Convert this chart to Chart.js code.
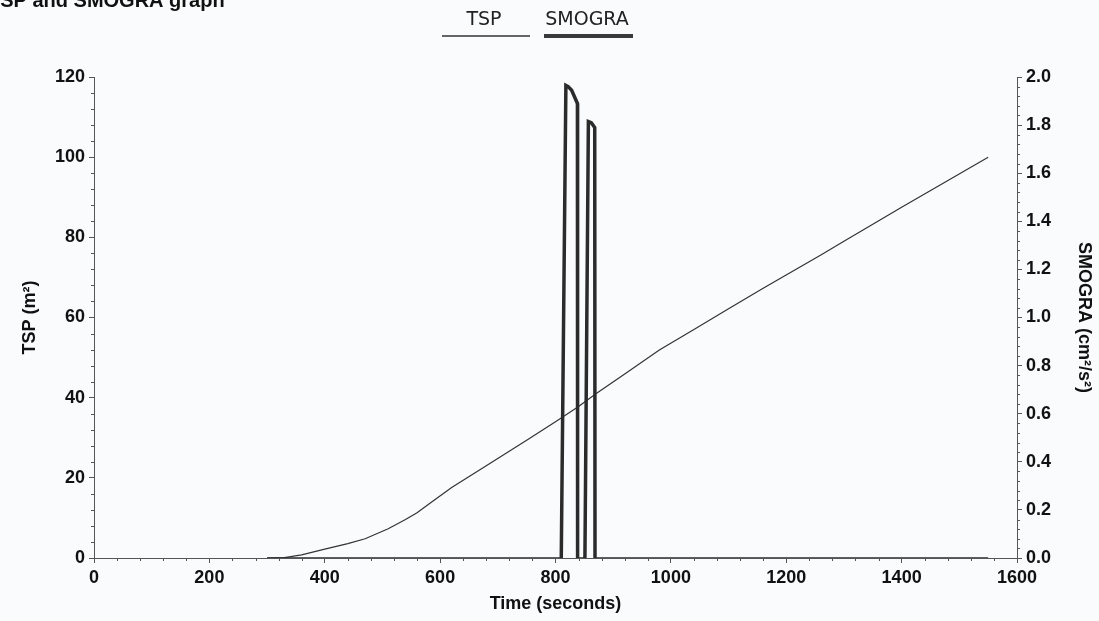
<!DOCTYPE html>
<html><head><meta charset="utf-8">
<script src="https://cdn.jsdelivr.net/npm/chart.js@4.4.1/dist/chart.umd.min.js"></script>
<style>html,body{margin:0;padding:0;background:#fafbfc;overflow:hidden}canvas{display:block}</style>
</head><body>
<canvas id="c" width="1099" height="621"></canvas>
<script>
// ---- data ----
const tspTime  = [300, 330, 360, 400, 440, 470, 510, 540, 560, 580, 620, 680, 750, 800, 840, 870, 920, 980, 1040, 1100, 1160, 1260, 1300, 1400, 1460, 1550];
const tspValue = [0, 0.1, 0.8, 2.2, 3.6, 4.8, 7.3, 9.6, 11.3, 13.4, 17.6, 23.0, 29.4, 34.0, 37.8, 41.0, 45.9, 51.9, 57.0, 62.2, 67.3, 75.6, 79.0, 87.5, 92.5, 100.0];
const smograTime  = [300, 810, 818, 822, 828, 838, 838.3, 851, 857, 862, 868, 868.5, 1550];
const smograValue = [0, 0, 1.965, 1.96, 1.945, 1.89, 0, 0, 1.815, 1.81, 1.79, 0, 0];
const xRange = [0, 1600], xStep = 200, xMinor = 40;
const yRange = [0, 120], yStep = 20, yMinor = 4;
const y1Range = [0, 2], y1Step = 0.2, y1Minor = 0.04;
const titleText = 'TSP and SMOGRA graph';
const legendNames = ['TSP', 'SMOGRA'];

const axisColor = '#555';
const tickFont = {family: 'Liberation Sans', size: 18, weight: 'bold'};
const titleFont = {family: 'Liberation Sans', size: 18, weight: 'bold'};

const pts = (xs, ys) => xs.map((x, i) => ({x, y: ys[i]}));

const extras = {
  id: 'extras',
  afterDraw(chart) {
    const ctx = chart.ctx;
    ctx.save();
    // partially cut-off page title
    ctx.fillStyle = '#111';
    ctx.font = 'bold 20px "Liberation Sans"';
    ctx.textBaseline = 'alphabetic';
    ctx.textAlign = 'left';
    ctx.fillText(titleText, -12, 7);
    // legend
    ctx.font = '19px "DejaVu Sans"';
    ctx.textAlign = 'center';
    ctx.textBaseline = 'middle';
    ctx.fillStyle = '#222';
    ctx.fillText(legendNames[0], 484, 20);
    ctx.fillText(legendNames[1], 587, 20);
    ctx.strokeStyle = '#333';
    ctx.lineWidth = 1.5;
    ctx.beginPath(); ctx.moveTo(442, 36); ctx.lineTo(530, 36); ctx.stroke();
    ctx.strokeStyle = '#3a3a3a';
    ctx.lineWidth = 4;
    ctx.beginPath(); ctx.moveTo(544, 36); ctx.lineTo(633, 36); ctx.stroke();
    // minor ticks
    ctx.strokeStyle = axisColor;
    ctx.lineWidth = 1;
    const ca = chart.chartArea;
    const sx = chart.scales.x, sy = chart.scales.y, sy1 = chart.scales.y1;
    const eps = 1e-6;
    ctx.beginPath();
    for (let v = xRange[0]; v <= xRange[1] + eps; v += xMinor) {
      if (Math.abs(v / xStep - Math.round(v / xStep)) < eps) continue;
      const p = Math.round(sx.getPixelForValue(v)) + 0.5;
      ctx.moveTo(p, ca.bottom); ctx.lineTo(p, ca.bottom + 3);
    }
    for (let v = yRange[0]; v <= yRange[1] + eps; v += yMinor) {
      if (Math.abs(v / yStep - Math.round(v / yStep)) < eps) continue;
      const p = Math.round(sy.getPixelForValue(v)) + 0.5;
      ctx.moveTo(ca.left, p); ctx.lineTo(ca.left - 3, p);
    }
    for (let i = 0; i * y1Minor <= y1Range[1] + eps; i++) {
      const v = i * y1Minor;
      if (i % 5 === 0) continue;
      const p = Math.round(sy1.getPixelForValue(v)) + 0.5;
      ctx.moveTo(ca.right, p); ctx.lineTo(ca.right + 3, p);
    }
    ctx.stroke();
    ctx.restore();
  }
};

new Chart(document.getElementById('c'), {
  type: 'line',
  data: {
    datasets: [
      {label: legendNames[0], data: pts(tspTime, tspValue), yAxisID: 'y', borderColor: '#333', borderWidth: 1.2, pointRadius: 0, tension: 0, order: 2},
      {label: legendNames[1], data: pts(smograTime, smograValue), yAxisID: 'y1', borderColor: '#2b2b2b', borderWidth: 3.5, pointRadius: 0, tension: 0, order: 1,
       segment: {borderWidth: c => (c.p0.parsed.y === 0 && c.p1.parsed.y === 0) ? 1.5 : 3.5}}
    ]
  },
  options: {
    responsive: false,
    animation: false,
    layout: {padding: {top: 77, left: 0, right: 0, bottom: 0}},
    plugins: {legend: {display: false}, tooltip: {enabled: false}},
    scales: {
      x: {
        type: 'linear', min: xRange[0], max: xRange[1],
        ticks: {stepSize: xStep, color: '#111', font: tickFont, padding: 4, maxRotation: 0, callback: v => String(v)},
        grid: {drawOnChartArea: false, tickLength: 5, color: axisColor},
        border: {color: axisColor, width: 1},
        title: {display: true, text: 'Time (seconds)', color: '#111', font: titleFont, padding: {top: 0, bottom: 6}},
        afterFit(s) { s.height = 63; }
      },
      y: {
        type: 'linear', position: 'left', min: yRange[0], max: yRange[1],
        ticks: {stepSize: yStep, color: '#111', font: tickFont, padding: 4},
        grid: {drawOnChartArea: false, tickLength: 5, color: axisColor},
        border: {color: axisColor, width: 1},
        title: {display: true, text: 'TSP (m²)', color: '#111', font: titleFont, padding: {top: 19, bottom: 0}},
        afterFit(s) { s.width = 94; }
      },
      y1: {
        type: 'linear', position: 'right', min: y1Range[0], max: y1Range[1],
        ticks: {stepSize: y1Step, color: '#111', font: tickFont, padding: 4, callback: v => Number(v).toFixed(1)},
        grid: {drawOnChartArea: false, tickLength: 5, color: axisColor},
        border: {color: axisColor, width: 1},
        title: {display: true, text: 'SMOGRA (cm²/s²)', color: '#111', font: titleFont, padding: {top: 4, bottom: 0}},
        afterFit(s) { s.width = 82; }
      }
    }
  },
  plugins: [extras]
});
</script>
</body></html>
